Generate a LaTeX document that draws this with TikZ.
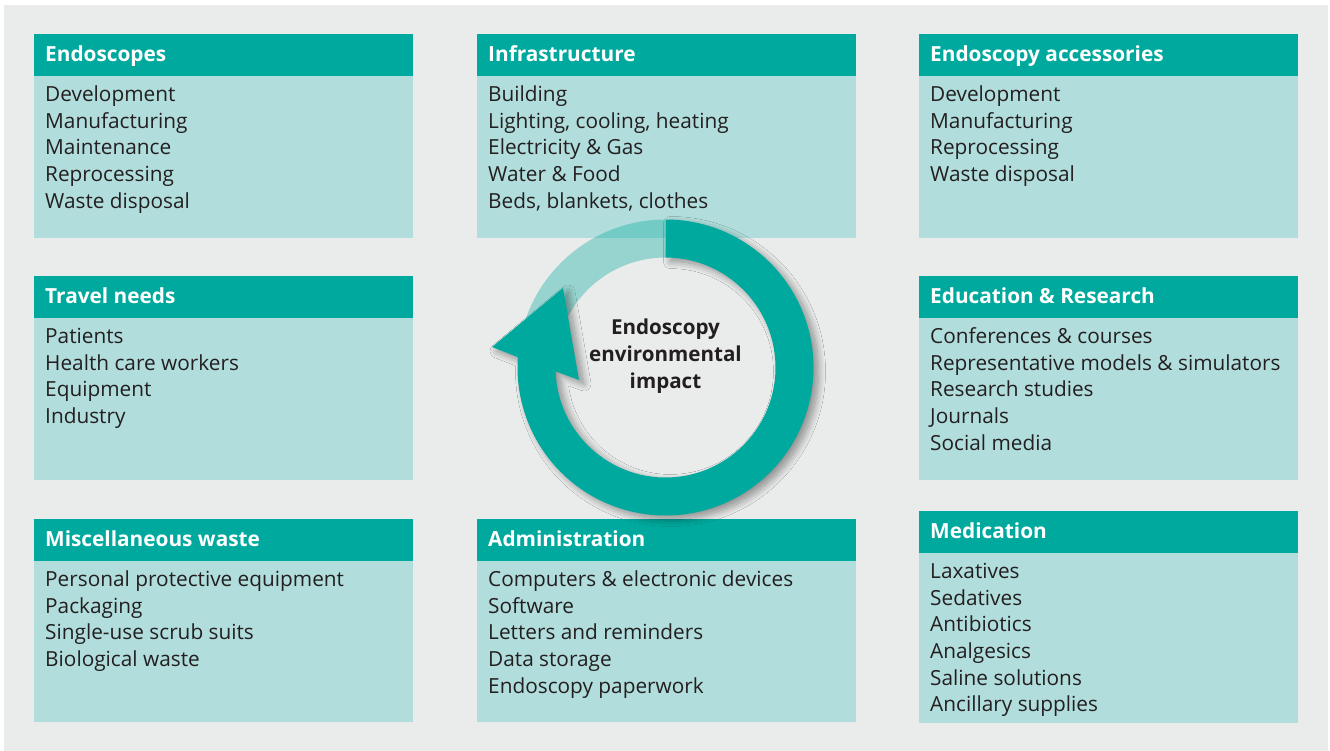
\documentclass[tikz,border=0pt]{standalone}
\usepackage{fontspec}
\setmainfont{Open Sans}
\usetikzlibrary{calc,shadows.blur}
\definecolor{teal1}{HTML}{00A99D}
\definecolor{lteal}{HTML}{B1DEDC}
\definecolor{bggray}{HTML}{EAECEB}
\definecolor{txt}{HTML}{231F20}
\tikzset{
  hdr/.style={fill=teal1, draw=none},
  bodybox/.style={fill=lteal, draw=none},
  hdrtext/.style={anchor=base west, inner sep=0pt, text=white, font=\fontsize{20.8}{25}\selectfont\bfseries},
  itemtext/.style={anchor=base west, inner sep=0pt, text=txt, font=\fontsize{20.8}{25}\selectfont},
  centertext/.style={inner sep=0pt, text=txt, align=center, font=\fontsize{20.6}{26.7}\selectfont\bfseries},
}
% #1 name, #2 left x, #3 top y, #4 bottom y, #5 title, #6 items
\newcommand\infobox[6]{%
  \fill[hdr] (#2,#3) rectangle (#2+379,#3+42);
  \fill[bodybox] (#2,#3+42) rectangle (#2+379,#4);
  \node[hdrtext] (#1-t) at (#2+11,#3+27.7) {#5};
  \foreach \it [count=\i from 0] in {#6} {
    \node[itemtext] (#1-\i) at (#2+11,#3+67.7+26.6*\i) {\it};
  }
}
\begin{document}
\begin{tikzpicture}[x=1pt,y=-1pt]
\useasboundingbox (0,0) rectangle (1330,751);
\fill[white] (0,0) rectangle (1330,751);
\fill[bggray] (4,5) rectangle (1328,751);

\infobox{endo}{34}{34}{238}{Endoscopes}{Development,Manufacturing,Maintenance,Reprocessing,Waste disposal}
\infobox{infra}{477}{34}{238}{Infrastructure}{Building,{Lighting, cooling, heating},Electricity \& Gas,Water \& Food,{Beds, blankets, clothes}}
\infobox{acc}{919}{34}{238}{Endoscopy accessories}{Development,Manufacturing,Reprocessing,Waste disposal}
\infobox{travel}{34}{276}{480}{Travel needs}{Patients,Health care workers,Equipment,Industry}
\infobox{edu}{919}{276}{480}{Education \& Research}{Conferences \& courses,Representative models \& simulators,Research studies,Journals,Social media}
\infobox{misc}{34}{519}{722}{Miscellaneous waste}{Personal protective equipment,Packaging,Single-use scrub suits,Biological waste}
\infobox{admin}{477}{519}{722}{Administration}{Computers \& electronic devices,Software,Letters and reminders,Data storage,Endoscopy paperwork}
\infobox{med}{919}{511}{723}{Medication}{Laxatives,Sedatives,Antibiotics,Analgesics,Saline solutions,Ancillary supplies}

% cycle arrow
\coordinate (c) at (665.5,367.5);
\draw[teal1, opacity=0.35, line width=38pt] (c) ++(-90:129) arc[start angle=-90, end angle=-165, radius=129];
\fill[teal1, blur shadow={shadow xshift=5pt, shadow yshift=-4pt, shadow blur steps=12, shadow blur radius=7pt, shadow opacity=40}]
  (c) ++(-90:148) arc[start angle=-90, end angle=184, radius=148]
  -- (492,347) -- (563,288) -- (579,380)
  -- ($(c)+(178:110)$) arc[start angle=178, end angle=-90, radius=110] -- cycle;
\node[centertext] (ctr) at (665.5,356) {Endoscopy\\environmental\\impact};
\end{tikzpicture}
\end{document}
